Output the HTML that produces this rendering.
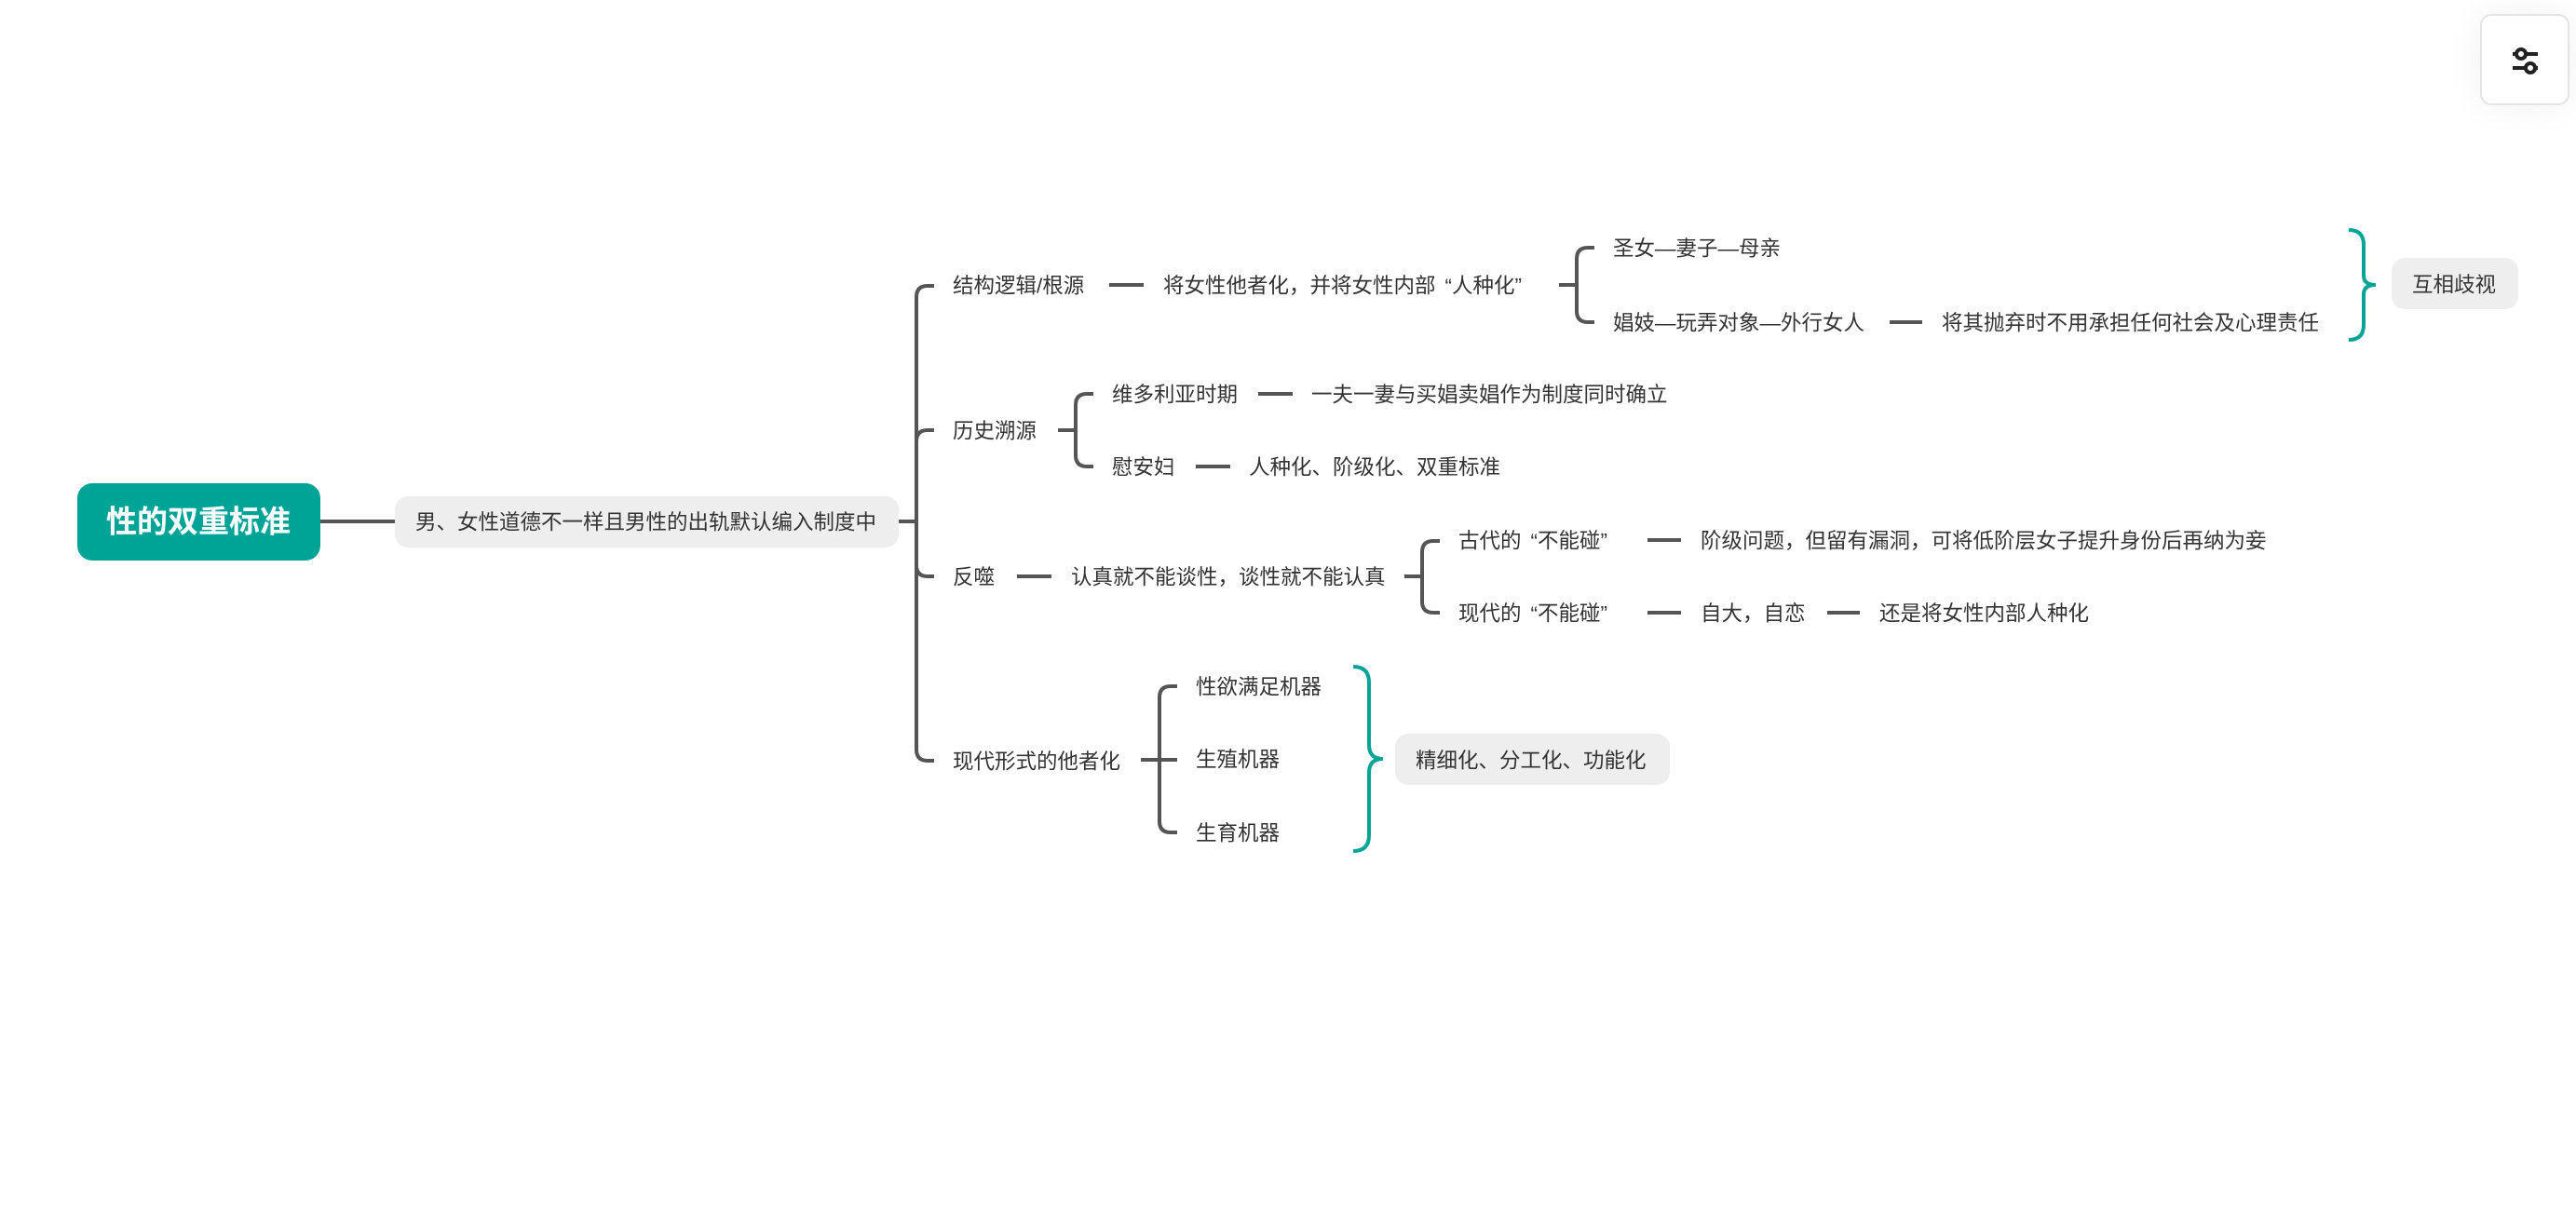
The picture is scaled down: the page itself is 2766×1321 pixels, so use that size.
<!DOCTYPE html>
<html><head><meta charset="utf-8"><style>
html,body{margin:0;padding:0;background:#fff;}
body{width:2766px;height:1321px;position:relative;overflow:hidden;}
svg{position:absolute;left:0;top:0;}
text{font-family:"Liberation Sans","Noto Sans CJK SC",sans-serif;font-size:22.5px;fill:#333;dominant-baseline:central;}
.btn{position:absolute;left:2663px;top:15px;width:96px;height:98px;border:2px solid #e4e4e4;border-radius:12px;background:#fff;box-shadow:0 0 40px rgba(0,0,0,0.06);box-sizing:border-box;}
</style></head><body>
<svg width="2766" height="1321" viewBox="0 0 2766 1321">
<g fill="none" stroke="#555" stroke-width="4" stroke-linecap="butt">
<line x1="344" y1="560" x2="424" y2="560"/>
<line x1="965" y1="560" x2="984" y2="560"/>
<path d="M1003 307 H996 Q984 307 984 319 V805 Q984 817 996 817 H1003"/>
<path d="M984 474 Q984 462 996 462 H1003"/>
<path d="M984 607 Q984 619 996 619 H1003"/>
<line x1="1191" y1="306" x2="1228" y2="306"/>
<line x1="1674" y1="306" x2="1693" y2="306"/>
<path d="M1712 266 H1705 Q1693 266 1693 278 V334 Q1693 346 1705 346 H1712"/>
<line x1="2029" y1="346" x2="2064" y2="346"/>
<line x1="1136" y1="462" x2="1155" y2="462"/>
<path d="M1174 423 H1167 Q1155 423 1155 435 V489 Q1155 501 1167 501 H1174"/>
<line x1="1351" y1="423" x2="1388" y2="423"/>
<line x1="1284" y1="501" x2="1321" y2="501"/>
<line x1="1092" y1="619" x2="1129" y2="619"/>
<line x1="1508" y1="619" x2="1527" y2="619"/>
<path d="M1546 581 H1539 Q1527 581 1527 593 V646 Q1527 658 1539 658 H1546"/>
<line x1="1769" y1="580" x2="1805" y2="580"/>
<line x1="1769" y1="658" x2="1805" y2="658"/>
<line x1="1962" y1="658" x2="1997" y2="658"/>
<line x1="1225" y1="816" x2="1264" y2="816"/>
<path d="M1264 737 H1257 Q1245 737 1245 749 V882 Q1245 894 1257 894 H1264"/>
</g>
<g fill="none" stroke="#0aa496" stroke-width="4">
<path d="M2522 247 Q2538 247 2538 263 V296 Q2538 306 2551 306 Q2538 306 2538 316 V349 Q2538 365 2522 365"/>
<path d="M1453 716 Q1470 716 1470 733 V800 Q1470 815 1485 815 Q1470 815 1470 830 V897 Q1470 914 1453 914"/>
</g>
<rect x="83" y="519" width="261" height="83" rx="16" fill="#00a497"/>
<text x="213" y="560" text-anchor="middle" style="fill:#fff;font-size:33px;font-weight:bold;">性的双重标准</text>
<rect x="424" y="533" width="541" height="55" rx="14" fill="#eeeeee"/>
<text x="446" y="561">男、女性道德不一样且男性的出轨默认编入制度中</text>
<rect x="2568" y="277" width="136" height="55" rx="14" fill="#eeeeee"/>
<text x="2590" y="306">互相歧视</text>
<rect x="1498" y="788" width="295" height="55" rx="14" fill="#eeeeee"/>
<text x="1520" y="817">精细化、分工化、功能化</text>

<text x="1023" y="307">结构逻辑/根源</text>
<text x="1249" y="307">将女性他者化，并将女性内部<tspan dx="10">“</tspan>人种化”</text>
<text x="1732" y="267">圣女—妻子—母亲</text>
<text x="1732" y="347">娼妓—玩弄对象—外行女人</text>
<text x="2085" y="347">将其抛弃时不用承担任何社会及心理责任</text>

<text x="1023" y="463">历史溯源</text>
<text x="1194" y="424">维多利亚时期</text>
<text x="1408" y="424">一夫一妻与买娼卖娼作为制度同时确立</text>
<text x="1194" y="502">慰安妇</text>
<text x="1341" y="502">人种化、阶级化、双重标准</text>

<text x="1023" y="620">反噬</text>
<text x="1150" y="620">认真就不能谈性，谈性就不能认真</text>
<text x="1566" y="581">古代的<tspan dx="10">“</tspan>不能碰”</text>
<text x="1826" y="581">阶级问题，但留有漏洞，可将低阶层女子提升身份后再纳为妾</text>
<text x="1566" y="659">现代的<tspan dx="10">“</tspan>不能碰”</text>
<text x="1826" y="659">自大，自恋</text>
<text x="2018" y="659">还是将女性内部人种化</text>

<text x="1023" y="818">现代形式的他者化</text>
<text x="1284" y="738">性欲满足机器</text>
<text x="1284" y="816">生殖机器</text>
<text x="1284" y="895">生育机器</text>
</svg>
<div class="btn">
<svg width="96" height="98" viewBox="0 0 96 98" style="position:absolute;left:-2px;top:-2px;">
<g stroke="#222" stroke-width="4" fill="#fff">
<line x1="35" y1="43" x2="62" y2="43"/>
<line x1="35" y1="58" x2="62" y2="58"/>
<circle cx="44" cy="43" r="5"/>
<circle cx="54" cy="58" r="5"/>
</g>
</svg>
</div>
</body></html>
